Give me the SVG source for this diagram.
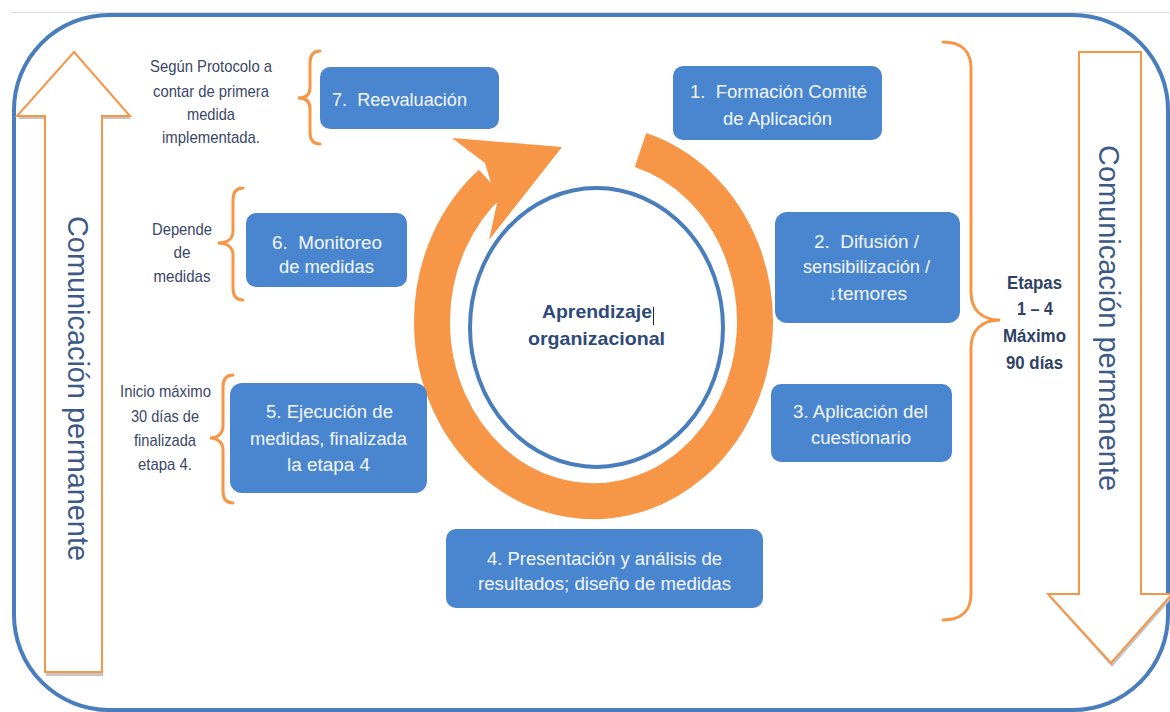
<svg xmlns="http://www.w3.org/2000/svg" width="1170" height="712" viewBox="0 0 1170 712">
<defs>
<style>
.box{fill:#4a86cf;}
.bt{font-family:"Liberation Sans",Arial,sans-serif;font-size:18px;fill:#f2f6fc;text-anchor:middle;}
.ann{font-family:"Liberation Sans",Arial,sans-serif;font-size:17px;fill:#3a4868;text-anchor:middle;}
.etp{font-family:"Liberation Sans",Arial,sans-serif;font-size:18px;font-weight:bold;fill:#2f4262;text-anchor:middle;}
.brace{fill:none;stroke:#f79646;stroke-width:3;stroke-linecap:round;}
.com{font-family:"Liberation Sans",Arial,sans-serif;font-size:29px;fill:#3d5a86;text-anchor:middle;}
.arr{fill:#ffffff;stroke:#f79646;stroke-width:2;}
.shadow{fill:#c4c4c4;}
.ctr{font-family:"Liberation Sans",Arial,sans-serif;font-size:19px;font-weight:bold;fill:#2e4a78;text-anchor:middle;}
</style>
</defs>
<rect width="1170" height="712" fill="#ffffff"/>
<line x1="10" y1="12.5" x2="1170" y2="12.5" stroke="#dddddd" stroke-width="1"/>
<g id="frame">
<rect x="14" y="15" width="1154" height="695" rx="95" ry="95" fill="none" stroke="#4a7dbc" stroke-width="4"/>
</g>
<g id="arrow-left">
<polygon class="shadow" points="75,55 131,119 103,119 103,676 46,676 46,119 18,119"/>
<polygon class="arr" points="74,52 130,116 102,116 102,672 45,672 45,116 17,116"/>
<text class="com" transform="translate(68,388.5) rotate(90)" textLength="345" lengthAdjust="spacingAndGlyphs">Comunicación permanente</text>
</g>
<g id="arrow-right">
<polygon class="shadow" points="1080,55 1142,55 1142,597 1173,597 1112,667 1049,597 1080,597"/>
<polygon class="arr" points="1079,52 1141,52 1141,594 1172,594 1111,663 1048,594 1079,594"/>
<text class="com" transform="translate(1099,318) rotate(90)" textLength="346" lengthAdjust="spacingAndGlyphs">Comunicación permanente</text>
</g>
<g id="connectors">
<path d="M640.5,150 A161.5,179.5 0 1 1 491,183" fill="none" stroke="#f79646" stroke-width="36"/>
<polygon points="485,163 452,138 562,147 489,240 497,203" fill="#f79646"/>
<path class="brace" d="M320,51 C313,51 310,56 310,63 L310,88 C310,95 305,98 298,98 C305,98 310,101 310,108 L310,132 C310,139 313,144 320,144"/>
<path class="brace" d="M243,188 C236,188 233,193 233,200 L233,231 C233,238 228,243 218,243 C228,243 233,248 233,255 L233,288 C233,295 236,300 243,300"/>
<path class="brace" d="M233,375 C226,375 223,380 223,387 L223,426 C223,433 218,438 210,438 C218,438 223,443 223,450 L223,491 C223,498 226,503 233,503"/>
<path class="brace" d="M943,42 C962,42 971,52 971,68 L971,292 C971,310 982,320 1000,320 C982,320 971,330 971,348 L971,594 C971,610 962,620 943,620"/>
</g>
<g id="center">
<ellipse cx="596.5" cy="327.5" rx="126.5" ry="139.5" fill="none" stroke="#4a7dbc" stroke-width="4"/>
<text class="ctr" x="597" y="318" textLength="110" lengthAdjust="spacingAndGlyphs">Aprendizaje</text>
<line x1="653.5" y1="307" x2="653.5" y2="325" stroke="#222222" stroke-width="1"/>
<text class="ctr" x="596.5" y="345" textLength="137" lengthAdjust="spacingAndGlyphs">organizacional</text>
</g>
<g id="node7">
<rect class="box" x="320" y="67" width="179" height="62" rx="10"/>
<text class="bt" x="399.5" y="106" textLength="135" lengthAdjust="spacingAndGlyphs" xml:space="preserve">7.  Reevaluación</text>
</g>
<g id="node1">
<rect class="box" x="673" y="66" width="209" height="74" rx="10"/>
<text class="bt" x="778.5" y="98" textLength="177" lengthAdjust="spacingAndGlyphs" xml:space="preserve">1.  Formación Comité</text>
<text class="bt" x="777.5" y="125" textLength="109" lengthAdjust="spacingAndGlyphs">de Aplicación</text>
</g>
<g id="node2">
<rect class="box" x="775" y="212" width="185" height="111" rx="12"/>
<text class="bt" x="866.5" y="248" textLength="105" lengthAdjust="spacingAndGlyphs" xml:space="preserve">2.  Difusión /</text>
<text class="bt" x="866.5" y="273" textLength="127" lengthAdjust="spacingAndGlyphs">sensibilización /</text>
<text class="bt" x="867.5" y="300" textLength="79" lengthAdjust="spacingAndGlyphs">↓temores</text>
</g>
<g id="node3">
<rect class="box" x="771" y="384" width="181" height="78" rx="10"/>
<text class="bt" x="860.5" y="418" textLength="135" lengthAdjust="spacingAndGlyphs">3. Aplicación del</text>
<text class="bt" x="861" y="444" textLength="100" lengthAdjust="spacingAndGlyphs">cuestionario</text>
</g>
<g id="node4">
<rect class="box" x="446" y="529" width="317" height="79" rx="10"/>
<text class="bt" x="604.5" y="565" textLength="235" lengthAdjust="spacingAndGlyphs">4. Presentación y análisis de</text>
<text class="bt" x="604.5" y="590" textLength="253" lengthAdjust="spacingAndGlyphs">resultados; diseño de medidas</text>
</g>
<g id="node5">
<rect class="box" x="230" y="383" width="197" height="110" rx="12"/>
<text class="bt" x="329.5" y="418" textLength="127" lengthAdjust="spacingAndGlyphs">5. Ejecución de</text>
<text class="bt" x="328.5" y="445" textLength="157" lengthAdjust="spacingAndGlyphs">medidas, finalizada</text>
<text class="bt" x="328.5" y="471" textLength="83" lengthAdjust="spacingAndGlyphs">la etapa 4</text>
</g>
<g id="node6">
<rect class="box" x="246" y="213" width="161" height="74" rx="10"/>
<text class="bt" x="327" y="249" textLength="110" lengthAdjust="spacingAndGlyphs" xml:space="preserve">6.  Monitoreo</text>
<text class="bt" x="326.5" y="273" textLength="95" lengthAdjust="spacingAndGlyphs">de medidas</text>
</g>
<g id="note7">
<text class="ann" x="211" y="72" textLength="122" lengthAdjust="spacingAndGlyphs">Según Protocolo a</text>
<text class="ann" x="211" y="97" textLength="116" lengthAdjust="spacingAndGlyphs">contar de primera</text>
<text class="ann" x="211" y="120" textLength="48" lengthAdjust="spacingAndGlyphs">medida</text>
<text class="ann" x="211" y="143" textLength="98" lengthAdjust="spacingAndGlyphs">implementada.</text>
</g>
<g id="note6">
<text class="ann" x="182" y="235" textLength="60" lengthAdjust="spacingAndGlyphs">Depende</text>
<text class="ann" x="182" y="258" textLength="17" lengthAdjust="spacingAndGlyphs">de</text>
<text class="ann" x="182" y="282" textLength="57" lengthAdjust="spacingAndGlyphs">medidas</text>
</g>
<g id="note5">
<text class="ann" x="165.5" y="397" textLength="91" lengthAdjust="spacingAndGlyphs">Inicio máximo</text>
<text class="ann" x="165" y="422" textLength="68" lengthAdjust="spacingAndGlyphs">30 días de</text>
<text class="ann" x="165" y="446" textLength="62" lengthAdjust="spacingAndGlyphs">finalizada</text>
<text class="ann" x="165" y="470" textLength="54" lengthAdjust="spacingAndGlyphs">etapa 4.</text>
</g>
<g id="note-etapas">
<text class="etp" x="1034.5" y="289" textLength="55" lengthAdjust="spacingAndGlyphs">Etapas</text>
<text class="etp" x="1035" y="315" textLength="36" lengthAdjust="spacingAndGlyphs">1 – 4</text>
<text class="etp" x="1034.5" y="342" textLength="63" lengthAdjust="spacingAndGlyphs">Máximo</text>
<text class="etp" x="1034.5" y="369" textLength="57" lengthAdjust="spacingAndGlyphs">90 días</text>
</g>
</svg>
